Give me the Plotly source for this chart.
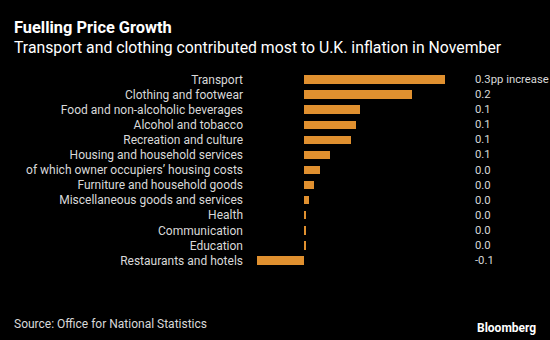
import plotly.graph_objects as go

# Contributions to UK CPI inflation, November (percentage points)
categories = [
    "Transport",
    "Clothing and footwear",
    "Food and non-alcoholic beverages",
    "Alcohol and tobacco",
    "Recreation and culture",
    "Housing and household services",
    "of which owner occupiers\u2019 housing costs",
    "Furniture and household goods",
    "Miscellaneous goods and services",
    "Health",
    "Communication",
    "Education",
    "Restaurants and hotels",
]
contributions = [0.30, 0.23, 0.12, 0.11, 0.10, 0.055, 0.033, 0.022, 0.010, 0.004, 0.004, 0.004, -0.10]
value_labels = ["0.3pp increase", "0.2", "0.1", "0.1", "0.1", "0.1", "0.0",
                "0.0", "0.0", "0.0", "0.0", "0.0", "-0.1"]

W, H = 550, 340
L, R, T, B = 250, 90, 71, 71
FONT = "Roboto"
TEXT = "#d9d9d9"
BAR = "#E0902F"

fig = go.Figure(go.Bar(
    x=contributions,
    y=categories,
    orientation="h",
    marker=dict(color=BAR, line=dict(width=0)),
    width=0.56,
    hoverinfo="skip",
))

plot_w = W - L - R
plot_h = H - T - B


def px(x, y):
    """Container pixel position -> paper coordinates."""
    return dict(x=(x - L) / plot_w, y=1 - (y - T) / plot_h, xref="paper", yref="paper")


annotations = []
for cat, lab in zip(categories, value_labels):
    annotations.append(dict(
        x=(472.5 - L) / plot_w, xref="paper", y=cat, yref="y",
        text=lab, showarrow=False, xanchor="left", yanchor="middle",
        font=dict(family=FONT, size=11.3, color=TEXT),
    ))

annotations += [
    dict(**px(12, 27.5), xanchor="left", yanchor="middle", showarrow=False,
         text="<b>Fuelling Price Growth</b>",
         font=dict(family=FONT, size=16.4, color="#ffffff")),
    dict(**px(12, 47), xanchor="left", yanchor="middle", showarrow=False,
         text="Transport and clothing contributed most to U.K. inflation in November",
         font=dict(family=FONT, size=15.8, color="#ffffff")),
    dict(**px(12, 324), xanchor="left", yanchor="middle", showarrow=False,
         text="Source: Office for National Statistics",
         font=dict(family=FONT, size=12, color=TEXT)),
    dict(**px(538, 328), xanchor="right", yanchor="middle", showarrow=False,
         text="<b>Bloomberg</b>",
         font=dict(family=FONT, size=12, color="#ffffff")),
]

fig.update_layout(
    width=W, height=H,
    margin=dict(l=L, r=R, t=T, b=B),
    paper_bgcolor="#000000",
    plot_bgcolor="#000000",
    showlegend=False,
    xaxis=dict(range=[(L - 304) / 470, (W - R - 304) / 470], visible=False, fixedrange=True),
    yaxis=dict(autorange="reversed", showgrid=False, zeroline=False, showline=False,
               ticks="", ticklabelstandoff=6, fixedrange=True,
               tickfont=dict(family=FONT, size=12, color=TEXT)),
    bargap=0,
    annotations=annotations,
)

fig.write_html("out.html", config={"displayModeBar": False})
